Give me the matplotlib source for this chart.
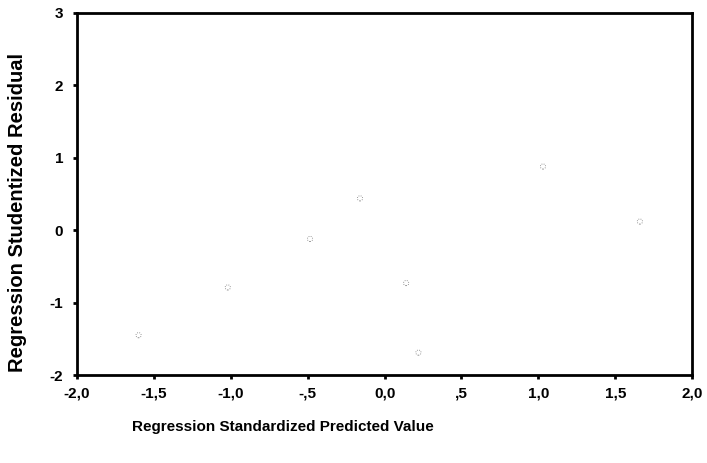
import numpy as np
import matplotlib.pyplot as plt

plt.rcParams['font.family'] = ['Liberation Sans', 'DejaVu Sans']

# values
predicted = [-1.60, -1.02, -0.485, -0.16, 0.14, 0.22, 1.03, 1.66]
residual = [-1.45, -0.79, -0.12, 0.44, -0.73, -1.69, 0.88, 0.12]

xticks = [-2.0, -1.5, -1.0, -0.5, 0.0, 0.5, 1.0, 1.5, 2.0]
xticklabels = ['-2,0', '-1,5', '-1,0', '-,5', '0,0', ',5', '1,0', '1,5', '2,0']
yticks = [-2, -1, 0, 1, 2, 3]

fig = plt.figure(figsize=(7.07, 4.63), dpi=100)
ax = fig.add_axes([0.109, 0.19, 0.87, 0.782])

ax.scatter(predicted, residual, s=14, facecolors='none', edgecolors='#777777',
           linewidths=0.6, linestyle=':')

ax.set_xlim(-2.0, 2.0)
ax.set_ylim(-2, 3)
ax.set_xticks(xticks)
ax.set_xticklabels(xticklabels)
ax.set_yticks(yticks)
ax.set_yticklabels([str(v) for v in yticks])

for s in ax.spines.values():
    s.set_linewidth(2)
ax.tick_params(direction='out', length=3, width=2, labelsize=11)
ax.tick_params(axis='y', pad=7)
ax.tick_params(axis='x', pad=5)
for lab in ax.get_xticklabels() + ax.get_yticklabels():
    lab.set_fontweight('bold')

ax.set_ylabel('Regression Studentized Residual', fontsize=14.5, fontweight='bold')
ax.yaxis.set_label_coords(-0.082, 0.45)
fig.text(283 / 707, 1 - 427 / 463, 'Regression Standardized Predicted Value',
         ha='center', va='center', fontsize=11, fontweight='bold')

fig.savefig('out.png', dpi=100)
